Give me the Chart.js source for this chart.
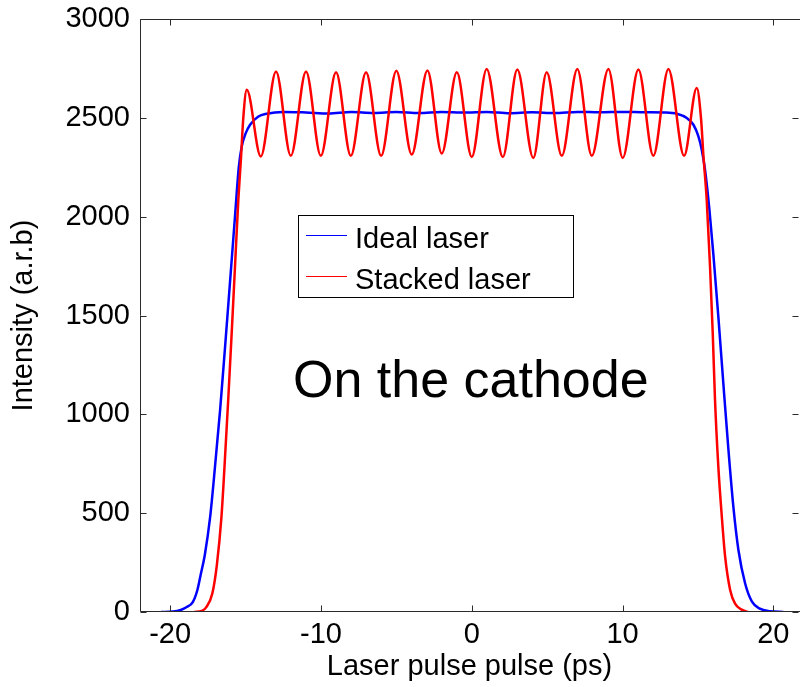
<!DOCTYPE html>
<html>
<head>
<meta charset="utf-8">
<script src="https://cdn.jsdelivr.net/npm/chart.js@4"></script>
<style>
  html, body { margin: 0; padding: 0; background: #fff; }
  #wrap { width: 800px; height: 687px; }
</style>
</head>
<body>
<div id="wrap"><canvas id="chart" width="800" height="687"></canvas></div>
<script>
// values
const xTicks = [-20, -10, 0, 10, 20];
const yTicks = [0, 500, 1000, 1500, 2000, 2500, 3000];

const idealX = [-20.6, -19.8, -19.3, -18.9, -18.5, -18.2, -18.0, -17.7, -17.35, -17.02, -16.69, -16.36, -16.03, -15.7,
  -15.45, -15.25, -15.0, -14.7, -14.15, -13.6, -12.5, -11, -9.5, -8, -6.5, -5, -3.5, -2, -0.5, 1, 2.5, 4, 5.5, 7,
  8.5, 10, 11.5, 12.8, 13.6, 14.26, 14.7, 15.03, 15.25, 15.47, 15.76, 16.02, 16.35, 16.68, 17.02, 17.35, 17.68,
  18.12, 18.57, 19.1, 19.8, 20.66];
const idealY = [0, 2, 10, 25, 50, 110, 180, 290, 480, 740, 1020, 1340, 1670, 2001,
  2250, 2356, 2420, 2465, 2507, 2521, 2530, 2527, 2522, 2530, 2525, 2530, 2524, 2530, 2527, 2530, 2523, 2528, 2524, 2530,
  2528, 2530, 2528, 2527, 2521, 2499, 2465, 2406, 2339, 2237, 2035, 1810, 1496, 1159, 821, 530, 315,
  147, 54, 17, 4, 0];

const stackedX = [-18.4, -17.9, -17.6, -17.2, -16.9, -16.6, -16.4, -16.15, -15.92, -15.7, -15.48, -15.3, -15.15, -14.92,
  -13.99, -12.98, -12.0, -10.99, -10.01, -9.0, -8.02, -7.01, -6.01, -5.0, -3.98, -2.94, -1.99, -0.99, 0.0,
  0.99, 2.06, 3.02, 4.08, 4.97, 5.97, 7.0, 7.96, 9.06, 10.01, 11.05, 12.04, 13.04, 14.08,
  14.92, 15.2, 15.36, 15.58, 15.8, 15.98, 16.13, 16.35, 16.58, 16.8, 17.13, 17.46, 17.9, 18.34];
const stackedY = [0, 6, 25, 95, 240, 480, 730, 1074, 1411, 1748, 2086, 2300, 2500, 2642,
  2305, 2735, 2308, 2735, 2308, 2730, 2308, 2730, 2308, 2738, 2314, 2740, 2319, 2730, 2302,
  2747, 2302, 2744, 2297, 2730, 2308, 2747, 2308, 2747, 2297, 2744, 2308, 2747, 2308,
  2651, 2500, 2310, 2086, 1748, 1411, 1074, 737, 484, 281, 113, 42, 12, 0];

const FONT = '"Liberation Sans", Arial, Helvetica, sans-serif';

function toPoints(xs, ys) {
  return xs.map((x, i) => ({ x: x, y: ys[i] }));
}

// matlab style box with inward ticks, legend box and text note
const matlabBox = {
  id: 'matlabBox',
  afterDatasetsDraw(chart) {
    const ctx = chart.ctx;
    const a = chart.chartArea;
    const xs = chart.scales.x;
    const ys = chart.scales.y;
    const L = Math.round(a.left) + 0.5, R = Math.round(a.right) - 0.5;
    const T = Math.round(a.top) + 0.5, B = Math.round(a.bottom) - 0.5;
    ctx.save();
    ctx.strokeStyle = '#2b2b2b';
    ctx.lineWidth = 1;
    ctx.beginPath();
    // right edge of the box falls off the picture, only its ticks show
    ctx.moveTo(800, T); ctx.lineTo(L, T); ctx.lineTo(L, B); ctx.lineTo(800, B);
    xTicks.forEach(v => {
      const px = Math.round(xs.getPixelForValue(v)) + 0.5;
      ctx.moveTo(px, B); ctx.lineTo(px, B - 6);
      ctx.moveTo(px, T); ctx.lineTo(px, T + 6);
    });
    yTicks.forEach(v => {
      const py = Math.round(ys.getPixelForValue(v)) + 0.5;
      ctx.moveTo(L, py); ctx.lineTo(L + 6, py);
      ctx.moveTo(R, py); ctx.lineTo(R - 6, py);
    });
    ctx.stroke();

    // legend
    ctx.fillStyle = '#fff';
    ctx.fillRect(298, 215, 275, 82);
    ctx.strokeStyle = '#000';
    ctx.strokeRect(298.5, 215.5, 275, 82);
    ctx.font = '29px ' + FONT;
    ctx.textBaseline = 'alphabetic';
    ctx.textAlign = 'left';
    const rows = [248, 289];
    chart.data.datasets.forEach((ds, i) => {
      const y = rows[i];
      ctx.strokeStyle = ds.borderColor;
      ctx.lineWidth = 1;
      ctx.beginPath();
      ctx.moveTo(306, y - 12.5); ctx.lineTo(347, y - 12.5);
      ctx.stroke();
      ctx.fillStyle = '#000';
      ctx.fillText(ds.label, 355, y);
    });

    ctx.font = '52px ' + FONT;
    ctx.fillText('On the cathode', 293, 397);
    ctx.restore();
  }
};

new Chart(document.getElementById('chart').getContext('2d'), {
  type: 'line',
  data: {
    datasets: [{
      label: 'Ideal laser',
      data: toPoints(idealX, idealY),
      borderColor: '#0000ff',
      borderWidth: 2.5,
      pointRadius: 0,
      cubicInterpolationMode: 'monotone',
      order: 1
    }, {
      label: 'Stacked laser',
      data: toPoints(stackedX, stackedY),
      borderColor: '#ff0000',
      borderWidth: 2.5,
      pointRadius: 0,
      cubicInterpolationMode: 'monotone',
      order: 0
    }]
  },
  options: {
    responsive: false,
    animation: false,
    layout: { padding: { top: 19, right: 1, left: 0, bottom: 0 } },
    plugins: { legend: { display: false }, tooltip: { enabled: false } },
    scales: {
      x: {
        type: 'linear',
        min: -22,
        max: 21.7,
        grid: { display: false, drawTicks: false },
        border: { display: false },
        afterBuildTicks: s => { s.ticks = xTicks.map(v => ({ value: v })); },
        afterFit: s => { s.height = 75; s.paddingLeft = 0; s.paddingRight = 0; },
        ticks: { color: '#000', padding: 6, font: { family: FONT, size: 29 }, callback: v => String(v) },
        title: {
          display: true,
          text: 'Laser pulse pulse (ps)',
          color: '#000',
          padding: { top: 0, bottom: 3 },
          font: { family: FONT, size: 29 }
        }
      },
      y: {
        min: 0,
        max: 3000,
        grid: { display: false, drawTicks: false },
        border: { display: false },
        afterBuildTicks: s => { s.ticks = yTicks.map(v => ({ value: v })); },
        afterFit: s => { s.width = 140; s.paddingTop = 0; s.paddingBottom = 0; },
        ticks: { color: '#000', padding: 10, font: { family: FONT, size: 29 }, callback: v => String(v) },
        title: {
          display: true,
          text: 'Intensity (a.r.b)',
          color: '#000',
          padding: { top: 7, bottom: 0 },
          font: { family: FONT, size: 29 }
        }
      }
    }
  },
  plugins: [matlabBox]
});
</script>
</body>
</html>
